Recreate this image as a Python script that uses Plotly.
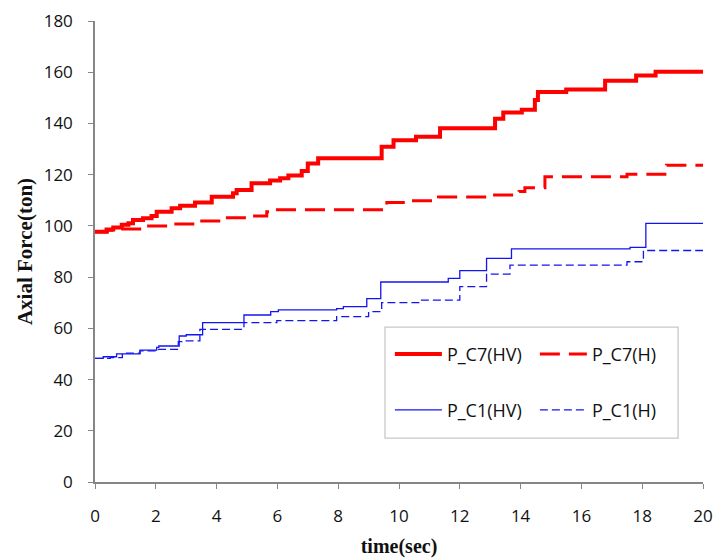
import plotly.graph_objects as go

# Axial force histories (ton) as step series: each value holds from its start time (sec)
c7_hv_t = [0, 0.38, 0.6, 0.88, 1.1, 1.25, 1.58, 1.86, 2.03, 2.52, 2.8, 3.29, 3.84, 4.54, 4.66,
           5.15, 5.76, 6.09, 6.36, 6.8, 7.0, 7.34, 9.43, 9.82, 10.56, 11.35, 13.16, 13.43, 14.04,
           14.47, 14.57, 15.5, 16.78, 17.8, 18.44, 20]
c7_hv_v = [97.7, 98.6, 99.4, 100.4, 101.0, 102.3, 103.0, 103.9, 105.5, 106.9, 107.9, 109.1, 111.4,
           112.7, 114.0, 116.6, 117.7, 118.6, 119.7, 121.4, 124.4, 126.4, 130.9, 133.4, 134.8, 138.1,
           141.8, 144.3, 145.3, 149.2, 152.3, 153.3, 156.7, 158.7, 160.2, 160.2]

c7_h_t = [0, 0.4, 0.75, 1.6, 2.5, 3.4, 4.2, 5.0, 5.65, 5.9, 9.6, 10.2, 11.3, 12.9, 13.95, 14.14,
          14.8, 17.5, 18.8, 20]
c7_h_v = [97.7, 98.3, 98.8, 100.0, 100.7, 101.9, 103.2, 103.9, 105.5, 106.3, 109.1, 109.8, 111.3,
          112.1, 113.4, 114.9, 119.2, 120.2, 123.7, 123.7]

c1_hv_t = [0, 0.27, 0.71, 1.48, 2.03, 2.1, 2.77, 3.0, 3.54, 4.9, 5.78, 6.03, 7.95, 8.17, 8.94,
           9.4, 11.62, 12.0, 12.88, 13.7, 17.6, 18.12, 20]
c1_hv_v = [48.3, 48.9, 50.0, 51.5, 52.6, 53.1, 57.0, 57.5, 62.2, 65.2, 66.5, 67.2, 67.7, 68.5, 71.6,
           78.1, 79.5, 82.5, 87.3, 91.0, 91.6, 101.0, 101.0]

c1_h_t = [0, 0.5, 0.9, 1.48, 2.03, 2.74, 2.9, 3.45, 4.9, 5.98, 7.95, 9.0, 9.43, 10.69, 12.0,
          12.88, 13.65, 17.5, 18.04, 20]
c1_h_v = [48.3, 48.6, 50.3, 51.2, 51.8, 54.8, 55.1, 59.6, 62.2, 63.0, 64.6, 66.5, 70.0, 71.0, 76.3,
          81.2, 84.7, 86.0, 90.4, 90.4]

x_ticks = list(range(0, 21, 2))
y_ticks = list(range(0, 181, 20))

RED = "#FF0000"
BLUE = "#1414F2"
AXIS_GREY = "#868686"
TEXT = "#111111"
LEGEND_FONT = dict(family="Open Sans", size=18, color=TEXT)
TICK_FONT = dict(family="Open Sans", size=17, color=TEXT)

fig = go.Figure()
fig.add_trace(go.Scatter(x=c7_hv_t, y=c7_hv_v, name="P_C7(HV)", mode="lines", line_shape="hv",
                         line=dict(color=RED, width=4), legend="legend"))
fig.add_trace(go.Scatter(x=c7_h_t, y=c7_h_v, name="P_C7(H)", mode="lines", line_shape="hv",
                         line=dict(color=RED, width=3, dash="20px,9px"), legend="legend"))
fig.add_trace(go.Scatter(x=c1_hv_t, y=c1_hv_v, name="P_C1(HV)", mode="lines", line_shape="hv",
                         line=dict(color=BLUE, width=1.3), legend="legend2"))
fig.add_trace(go.Scatter(x=c1_h_t, y=c1_h_v, name="P_C1(H)", mode="lines", line_shape="hv",
                         line=dict(color=BLUE, width=1.3, dash="8px,4px"), legend="legend2"))

# Frame around the two legend rows
fig.add_shape(type="rect", xref="paper", yref="paper", x0=0.477, x1=0.959, y0=0.095, y1=0.336,
              line=dict(color="#C8C8C8", width=1.3), fillcolor="rgba(0,0,0,0)", layer="below")

legend_common = dict(orientation="h", xanchor="left", yanchor="middle", font=LEGEND_FONT,
                     bgcolor="rgba(0,0,0,0)", borderwidth=0, itemwidth=47, entrywidth=83,
                     tracegroupgap=0)

fig.update_layout(
    width=715, height=558,
    margin=dict(l=95, r=12, t=21, b=76, autoexpand=False),
    paper_bgcolor="white", plot_bgcolor="white",
    showlegend=True,
    legend=dict(x=0.485, y=0.277, **legend_common),
    legend2=dict(x=0.485, y=0.156, **legend_common),
    xaxis=dict(range=[0, 20], tickvals=x_ticks, ticktext=[str(v) for v in x_ticks],
               automargin=False,
               showgrid=False, zeroline=False, showline=True, linecolor=AXIS_GREY, linewidth=1.5,
               ticks="outside", ticklen=5, tickcolor=AXIS_GREY, tickwidth=1,
               tickfont=TICK_FONT, ticklabelstandoff=13,
               title=dict(text="<b>time(sec)</b>", standoff=16,
                          font=dict(family="Liberation Serif", size=20, color=TEXT))),
    yaxis=dict(range=[0, 180], tickvals=y_ticks, ticktext=[str(v) for v in y_ticks],
               automargin=False,
               showgrid=False, zeroline=False, showline=True, linecolor=AXIS_GREY, linewidth=1.5,
               ticks="outside", ticklen=5, tickcolor=AXIS_GREY, tickwidth=1,
               tickfont=TICK_FONT, ticklabelstandoff=12,
               title=dict(text="<b>Axial Force(ton)</b>", standoff=5,
                          font=dict(family="Liberation Serif", size=21, color=TEXT))),
)

fig.write_html("out.html")
